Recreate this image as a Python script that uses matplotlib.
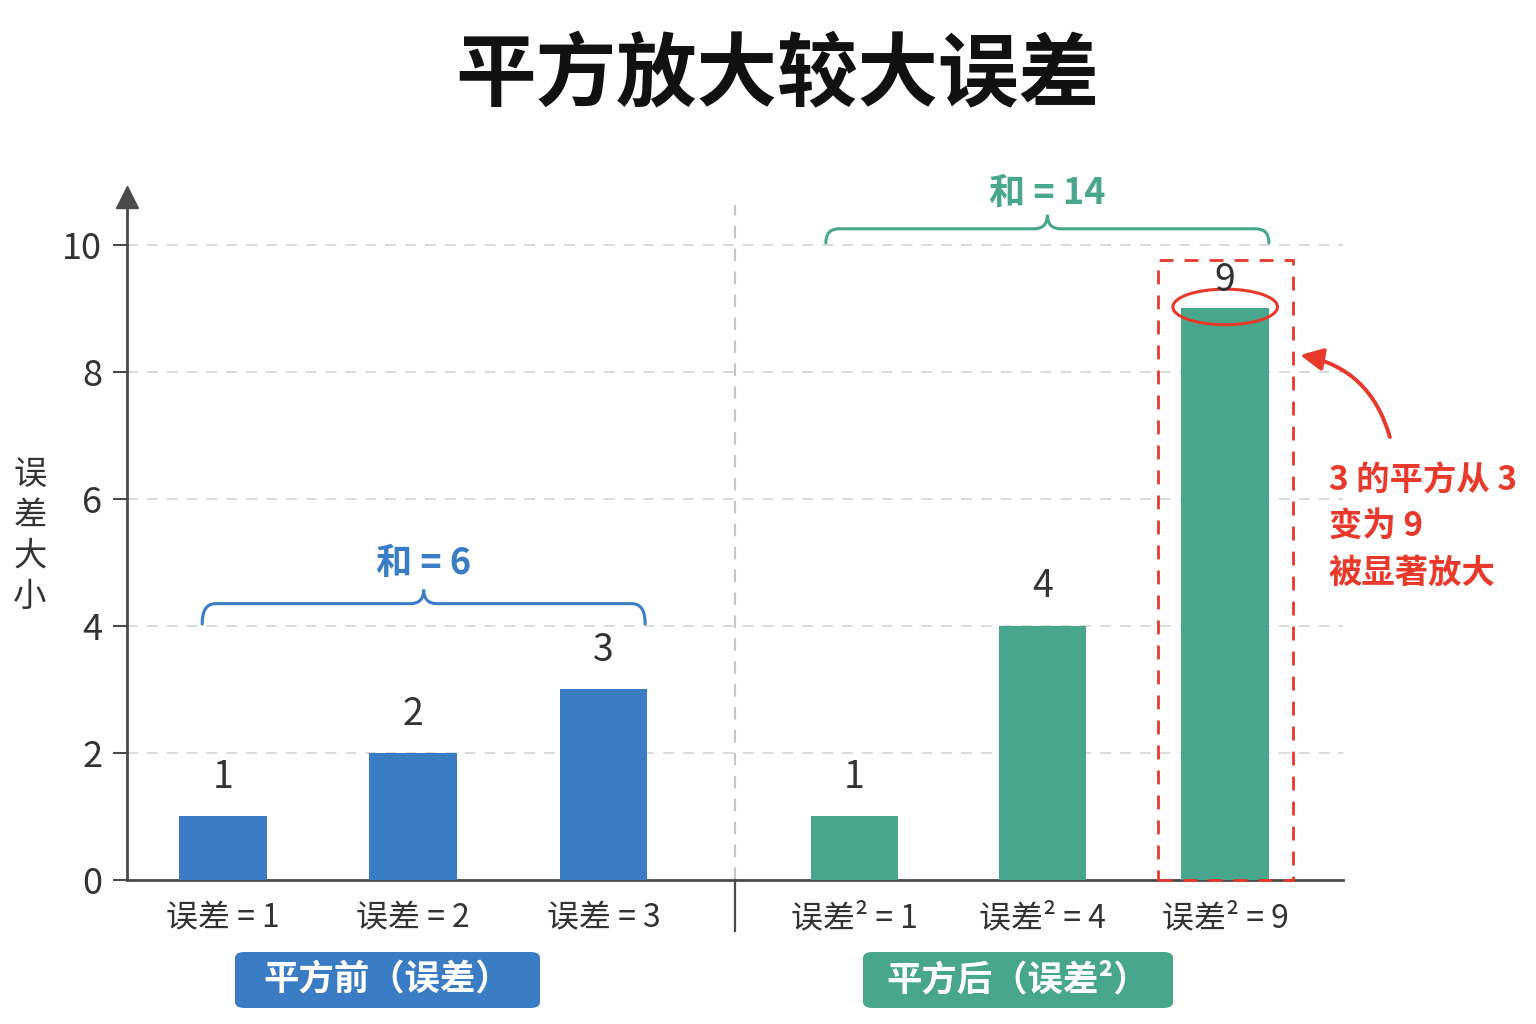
import numpy as np
import matplotlib
matplotlib.use("Agg")
import matplotlib.pyplot as plt
from matplotlib.path import Path
from matplotlib.patches import PathPatch, Rectangle, Ellipse, FancyBboxPatch

plt.rcParams['font.family'] = ['Noto Sans CJK SC', 'DejaVu Sans']

# data
before_labels = ['误差 = 1', '误差 = 2', '误差 = 3']
before_values = [1, 2, 3]
after_labels = ['误差² = 1', '误差² = 4', '误差² = 9']
after_values = [1, 4, 9]
before_pos = [0, 1, 2]
after_pos = [3.32, 4.31, 5.27]
sum_before = sum(before_values)
sum_after = sum(after_values)

BLUE = '#3A7DC4'
GREEN = '#47A68B'
RED = '#E8392B'
DARK = '#333333'
AXIS = '#4A4A4A'


def brace(ax, x0, x1, yb, yl, yt, color):
    xm = (x0 + x1) / 2
    rx = 0.07
    verts = [(x0, yb), (x0, yl), (x0 + rx, yl), (xm - rx, yl),
             (xm, yl), (xm, yt), (xm, yl), (xm + rx, yl),
             (x1 - rx, yl), (x1, yl), (x1, yb)]
    codes = [Path.MOVETO, Path.CURVE3, Path.CURVE3, Path.LINETO,
             Path.CURVE3, Path.CURVE3, Path.CURVE3, Path.CURVE3,
             Path.LINETO, Path.CURVE3, Path.CURVE3]
    ax.add_patch(PathPatch(Path(verts, codes), fc='none', ec=color,
                           lw=2.2, capstyle='round', clip_on=False))


fig = plt.figure(figsize=(15.36, 10.24), dpi=100)
ax = fig.add_axes([0.0827, 0.1406, 0.7917, 0.667])

ax.bar(before_pos, before_values, width=0.46, color=BLUE, zorder=3)
ax.bar(after_pos, after_values, width=0.46, color=GREEN, zorder=3)

ax.set_xlim(-0.505, 5.89)
ax.set_ylim(0, 10.75)
ax.set_yticks([0, 2, 4, 6, 8, 10])
ax.set_xticks(before_pos + after_pos)
ax.set_xticklabels(before_labels + after_labels)
ax.tick_params(axis='x', length=0, pad=16, labelsize=23, labelcolor=DARK)
ax.tick_params(axis='y', length=10, width=1.5, color=AXIS, pad=8,
               labelsize=26, labelcolor=DARK)
for y in [2, 4, 6, 8, 10]:
    ax.axhline(y, color='#D8D8D8', lw=1.3, ls=(0, (6, 5)), zorder=1)

for s in ['top', 'right']:
    ax.spines[s].set_visible(False)
for s in ['left', 'bottom']:
    ax.spines[s].set_color(AXIS)
    ax.spines[s].set_linewidth(2)
ax.plot(0, 1, marker='^', ms=16, color=AXIS, transform=ax.transAxes,
        clip_on=False, zorder=5)

# y label as stacked characters
fig.text(0.0195, 0.477, '\n'.join('误差大小'), fontsize=24, color=DARK,
         ha='center', va='center', linespacing=1.2)

# value labels
for x, v in zip(before_pos + after_pos, before_values + after_values):
    off = 6 if v == 9 else 14
    ax.annotate(str(v), (x, v), xytext=(0, off), textcoords='offset points',
                ha='center', va='bottom', fontsize=27, color=DARK, zorder=6)

# separator between groups
sep_x = 2.69
ax.plot([sep_x, sep_x], [0, 10.63], color='#C4C4C4', lw=1.5,
        ls=(0, (6, 5)), zorder=1)
ax.plot([sep_x, sep_x], [0, -0.075], color=AXIS, lw=1.6,
        transform=ax.get_xaxis_transform(), clip_on=False)

# braces with sums
brace(ax, before_pos[0] - 0.11, before_pos[-1] + 0.22, 4.03, 4.35, 4.57, BLUE)
ax.text((before_pos[0] - 0.11 + before_pos[-1] + 0.22) / 2, 4.98,
        '和 = %d' % sum_before, ha='center', va='center', fontsize=26,
        fontweight='bold', color=BLUE)
brace(ax, after_pos[0] - 0.15, after_pos[-1] + 0.23, 10.03, 10.25, 10.47, GREEN)
ax.text((after_pos[0] - 0.15 + after_pos[-1] + 0.23) / 2, 10.8,
        '和 = %d' % sum_after, ha='center', va='center', fontsize=26,
        fontweight='bold', color=GREEN, clip_on=False)

# highlight the largest error
big = after_pos[-1]
ax.add_patch(Rectangle((big - 0.355, 0), 0.71, 9.76, fill=False, ec=RED,
                       lw=2, ls=(0, (5, 4)), zorder=4, clip_on=False))
ax.add_patch(Ellipse((big, 9.02), 0.55, 0.56, fill=False, ec=RED, lw=2.2,
                     zorder=5))
ax.annotate('', xy=(5.65, 8.27), xytext=(6.14, 6.93),
            arrowprops=dict(arrowstyle='-|>', color=RED, lw=2.8,
                            mutation_scale=34,
                            connectionstyle='arc3,rad=0.32'),
            annotation_clip=False)
ax.text(5.815, 5.56, '3 的平方从 3\n变为 9\n被显著放大', ha='left', va='center',
        fontsize=24, color=RED, fontweight='bold', linespacing=1.5,
        clip_on=False)

# group label boxes
for x0, x1, txt, col in [(235, 540, '平方前（误差）', BLUE),
                         (863, 1173, '平方后（误差²）', GREEN)]:
    fx0, fx1 = x0 / 1536, x1 / 1536
    fy0, fy1 = 1 - 1008 / 1024, 1 - 952 / 1024
    fig.patches.append(FancyBboxPatch((fx0, fy0), fx1 - fx0, fy1 - fy0,
                                      boxstyle='round,pad=0,rounding_size=0.006',
                                      transform=fig.transFigure, fc=col,
                                      ec='none'))
    fig.text((fx0 + fx1) / 2, (fy0 + fy1) / 2, txt, ha='center', va='center',
             fontsize=25.5, fontweight='bold', color='white')

fig.text(0.506, 0.925, '平方放大较大误差', ha='center', va='center',
         fontsize=58, fontweight='bold', color='#111111')

fig.savefig('out.png', dpi=100, facecolor='white')
